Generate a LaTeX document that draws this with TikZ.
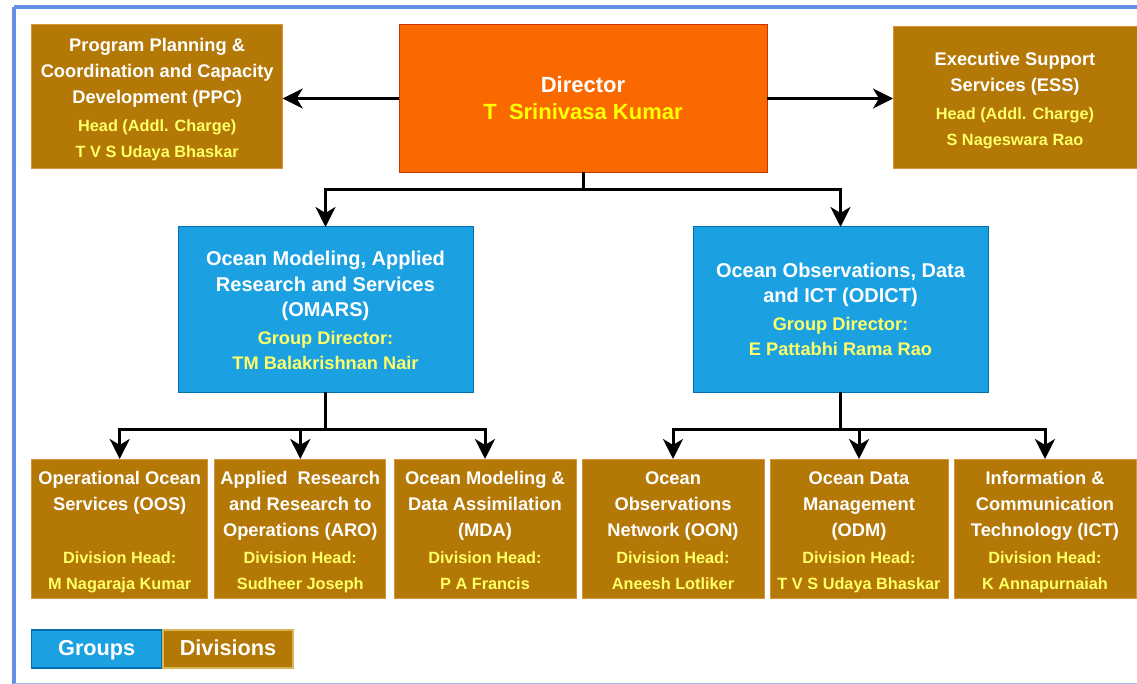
\documentclass[tikz,border=0pt]{standalone}
\usepackage{fontspec}
\setmainfont{Liberation Sans}
\usetikzlibrary{arrows.meta,calc}
\definecolor{brownfill}{HTML}{B47806}
\definecolor{brownline}{HTML}{DB9236}
\definecolor{orfill}{HTML}{FA6800}
\definecolor{orline}{HTML}{C73500}
\definecolor{blfill}{HTML}{1BA1E2}
\definecolor{blline}{HTML}{006EAF}
\definecolor{yel}{HTML}{FFFF66}
\definecolor{yelpure}{HTML}{FFFF00}
\definecolor{framec}{HTML}{6490E6}
\definecolor{legline}{HTML}{D6B656}
\newcommand{\ysm}{\fontsize{16.3bp}{26bp}\selectfont\color{yel}\strut}
\newcommand{\ygr}{\fontsize{18.2bp}{25.5bp}\selectfont\color{yel}\strut}
\newcommand{\fl}{\rule{0pt}{\dimexpr 0.7\baselineskip+6bp\relax}}
\begin{document}
\begin{tikzpicture}[x=1bp,y=-1bp,
  every node/.style={inner sep=0pt, outer sep=0pt},
  basebox/.style={rectangle, align=center, text=white, line width=1bp,
    font=\bfseries\fontsize{18.3bp}{26bp}\selectfont},
  divbox/.style={basebox, fill=brownfill, draw=brownline},
  dirbox/.style={basebox, fill=orfill, draw=orline,
    font=\bfseries\fontsize{22bp}{27bp}\selectfont},
  grpbox/.style={basebox, fill=blfill, draw=blline,
    font=\bfseries\fontsize{20bp}{25.5bp}\selectfont},
  legbox/.style={rectangle, align=center, text=white, line width=1.5bp,
    minimum width=130bp, minimum height=38bp,
    font=\bfseries\fontsize{21.7bp}{26bp}\selectfont},
  conn/.style={draw=black, line width=3bp},
  arr/.style={conn, -{Stealth[length=20bp, width=20bp, inset=6bp]}}
]
\useasboundingbox (0,0) rectangle (1137,684);
\fill[white] (0,0) rectangle (1137,684);
\draw[framec, line width=3.5bp] (13.8,7) -- (1150,7);
\draw[framec, line width=3.5bp] (13.8,7) -- (13.8,684);
\draw[framec!60, line width=2bp] (13.8,684) -- (1150,684);

% top row
\node[divbox, minimum width=251bp, minimum height=143bp] (ppc) at (157.2,96.5)
  {\fl Program Planning \&\\\strut Coordination and Capacity\\\strut Development (PPC)\\[2bp]
   {\ysm Head (Addl. Charge)}\\{\ysm T V S Udaya Bhaskar}};
\node[dirbox, minimum width=368bp, minimum height=147bp] (dir) at (583,98.5)
  {\rule{0pt}{\dimexpr 0.7\baselineskip+5bp\relax}Director\\\strut{\color{yelpure}T\ \ Srinivasa Kumar}};
\node[divbox, minimum width=244bp, minimum height=141bp] (ess) at (1015,97.5)
  {\fl Executive Support\\\strut Services (ESS)\\[2bp]
   {\ysm Head (Addl. Charge)}\\{\ysm S Nageswara Rao}};

% groups
\node[grpbox, minimum width=295bp, minimum height=165bp] (omars) at (325.5,309.5)
  {\fl Ocean Modeling, Applied\\\strut Research and Services\\\strut (OMARS)\\[2bp]
   {\ygr Group Director:}\\{\ygr TM Balakrishnan Nair}};
\node[grpbox, minimum width=295bp, minimum height=165bp] (odict) at (840.5,309.5)
  {\rule{0pt}{\dimexpr 0.7\baselineskip+4bp\relax}Ocean Observations, Data\\\strut and ICT (ODICT)\\[2bp]
   {\ygr Group Director:}\\{\ygr E Pattabhi Rama Rao}};

% divisions
\node[divbox, minimum width=176bp, minimum height=139bp] (oos) at (119.7,528.5)
  {\fl Operational Ocean\\\strut Services (OOS)\\\strut\\[1bp]
   {\ysm Division Head:}\\{\ysm M Nagaraja Kumar}};
\node[divbox, minimum width=170.7bp, minimum height=139bp] (aro) at (300.3,528.5)
  {\fl Applied\ \ Research\\\strut and Research to\\\strut Operations (ARO)\\[1bp]
   {\ysm Division Head:}\\{\ysm Sudheer Joseph}};
\node[divbox, minimum width=182bp, minimum height=139bp] (mda) at (485,528.5)
  {\fl Ocean Modeling \&\\\strut Data Assimilation\\\strut (MDA)\\[1bp]
   {\ysm Division Head:}\\{\ysm P A Francis}};
\node[divbox, minimum width=182bp, minimum height=139bp] (oon) at (673,528.5)
  {\fl Ocean\\\strut Observations\\\strut Network (OON)\\[1bp]
   {\ysm Division Head:}\\{\ysm Aneesh Lotliker}};
\node[divbox, minimum width=178bp, minimum height=139bp] (odm) at (859,528.5)
  {\fl Ocean Data\\\strut Management\\\strut (ODM)\\[1bp]
   {\ysm Division Head:}\\{\ysm T V S Udaya Bhaskar}};
\node[divbox, minimum width=182bp, minimum height=139bp] (ict) at (1045,528.5)
  {\fl Information \&\\\strut Communication\\\strut Technology (ICT)\\[1bp]
   {\ysm Division Head:}\\{\ysm K Annapurnaiah}};

% legend
\node[legbox, fill=blfill, draw=blline] (lgroups) at (96.7,649)
  {\rule[-7.8bp]{0pt}{29bp}Groups};
\node[legbox, fill=brownfill, draw=legline] (ldivs) at (228,649)
  {\rule[-7.8bp]{0pt}{29bp}Divisions};

% connectors
\draw[arr] (dir.west) -- (dir.west -| ppc.east);
\draw[arr] (dir.east) -- (dir.east -| ess.west);
\coordinate (jd) at (583,190);
\draw[conn] (dir.south) -- (jd);
\draw[arr] (jd) -| (omars.north);
\draw[arr] (jd) -| (odict.north);
\coordinate (jo) at (325.5,429);
\draw[conn] (omars.south) -- (jo);
\draw[arr] (jo) -| (oos.north);
\draw[arr] (jo) -| (aro.north);
\draw[arr] (jo) -| (mda.north);
\coordinate (jc) at (840.5,429);
\draw[conn] (odict.south) -- (jc);
\draw[arr] (jc) -| (oon.north);
\draw[arr] (jc) -| (odm.north);
\draw[arr] (jc) -| (ict.north);
\end{tikzpicture}
\end{document}
